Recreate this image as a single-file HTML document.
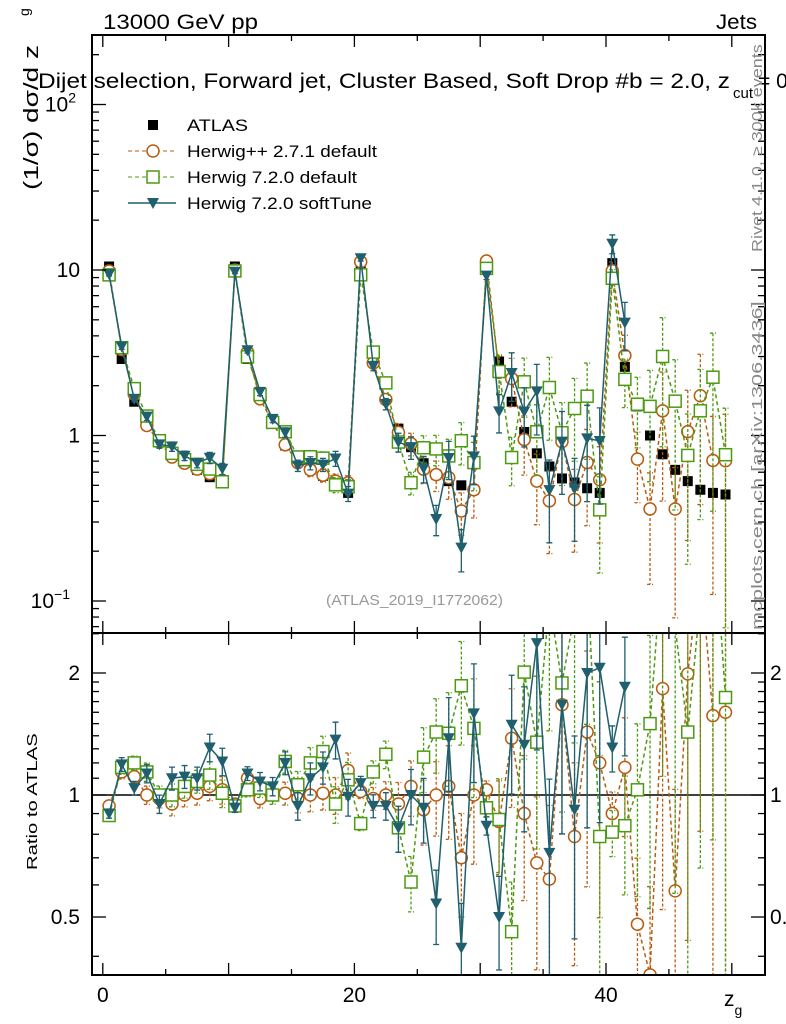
<!DOCTYPE html>
<html><head><meta charset="utf-8"><style>
html,body{margin:0;padding:0;background:#fff;overflow:hidden;width:786px;height:1024px;}
svg{display:block;overflow:hidden;font-family:"Liberation Sans",sans-serif;}
</style></head><body>
<svg id="chart" width="786" height="1024" viewBox="0 0 786 1024">
<defs>
<clipPath id="cm"><rect x="92" y="35" width="673" height="598"/></clipPath>
<clipPath id="cr"><rect x="92" y="633" width="673" height="342"/></clipPath>
<clipPath id="cpage"><rect x="0" y="0" width="786" height="1024"/></clipPath>
</defs>
<g clip-path="url(#cpage)">
<g id="marks"></g>
<rect x="92" y="35" width="673" height="598" fill="none" stroke="#000" stroke-width="2"/>
<rect x="92" y="633" width="673" height="342" fill="none" stroke="#000" stroke-width="2"/>
<g id="axes"></g>
<text x="103" y="29" font-size="21" textLength="155" lengthAdjust="spacingAndGlyphs">13000 GeV pp</text>
<text x="716" y="29" font-size="21" textLength="41" lengthAdjust="spacingAndGlyphs">Jets</text>
<text x="38" y="88" font-size="21" textLength="692" lengthAdjust="spacingAndGlyphs">Dijet selection, Forward jet, Cluster Based, Soft Drop #b = 2.0, z</text>
<text x="733" y="98" font-size="15">cut</text>
<text x="758" y="88" font-size="21">= 0.</text>
<text transform="translate(38,190) rotate(-90) scale(1.4,1)" font-size="20">(1/σ) dσ/d z</text>
<text transform="translate(29,16) rotate(-90)" font-size="14">g</text>
<text transform="translate(37,870) rotate(-90) scale(1.35,1)" font-size="15">Ratio to ATLAS</text>
<text x="724" y="1006" font-size="21">z<tspan font-size="14" dy="9">g</tspan></text>
<text transform="translate(762,252) rotate(-90) scale(1.2,1)" font-size="15" fill="#888">Rivet 4.1.0, ≥ 300k events</text>
<text transform="translate(762,630) rotate(-90) scale(1.45,1)" font-size="15" fill="#888">mcplots.cern.ch [arXiv:1306.3436]</text>
<text x="326" y="605" font-size="15" fill="#999" textLength="177" lengthAdjust="spacingAndGlyphs">(ATLAS_2019_I1772062)</text>
<g id="legend" font-size="17">
<rect x="148" y="120" width="10" height="10" fill="#000"/>
<text x="187" y="131" textLength="61" lengthAdjust="spacingAndGlyphs">ATLAS</text>
<line x1="128" y1="151" x2="176" y2="151" stroke="#b85c10" stroke-dasharray="4,3"/>
<circle cx="153" cy="151" r="6" fill="#fff" stroke="#b85c10" stroke-width="1.5"/>
<text x="187" y="157" textLength="190" lengthAdjust="spacingAndGlyphs">Herwig++ 2.7.1 default</text>
<line x1="128" y1="177" x2="176" y2="177" stroke="#4c9a10" stroke-dasharray="4,3"/>
<rect x="147" y="171" width="12" height="12" fill="#fff" stroke="#4c9a10" stroke-width="1.5"/>
<text x="187" y="183" textLength="170" lengthAdjust="spacingAndGlyphs">Herwig 7.2.0 default</text>
<line x1="128" y1="203" x2="176" y2="203" stroke="#1f5f6e" stroke-width="1.5"/>
<path d="M147,198 L159,198 L153,209 Z" fill="#1f5f6e"/>
<text x="187" y="209" textLength="185" lengthAdjust="spacingAndGlyphs">Herwig 7.2.0 softTune</text>
</g>
</g>
</svg>
<script>
const binCenters=[0.5,1.5,2.5,3.5,4.5,5.5,6.5,7.5,8.5,9.5,10.5,11.5,12.5,13.5,14.5,15.5,16.5,17.5,18.5,19.5,20.5,21.5,22.5,23.5,24.5,25.5,26.5,27.5,28.5,29.5,30.5,31.5,32.5,33.5,34.5,35.5,36.5,37.5,38.5,39.5,40.5,41.5,42.5,43.5,44.5,45.5,46.5,47.5,48.5,49.5];
const atlas=[10.5,2.9,1.6,1.15,0.93,0.78,0.68,0.62,0.56,0.52,10.5,2.9,1.7,1.2,0.87,0.7,0.62,0.57,0.53,0.45,11,2.8,1.65,1.1,0.85,0.68,0.58,0.53,0.5,0.47,11,2.8,1.6,1.05,0.78,0.65,0.55,0.52,0.48,0.45,11,2.6,1.5,1.0,0.77,0.62,0.53,0.47,0.45,0.44];
const ratioHpp=[0.94,1.14,1.11,1.0,0.98,0.95,1.0,1.01,1.05,1.03,0.95,1.1,0.98,1.0,1.01,0.98,1.0,1.01,1.0,1.15,1.02,0.98,1.0,0.95,1.05,0.92,1.0,1.05,0.70,1.0,1.03,0.86,1.38,0.9,0.68,0.62,1.67,0.79,1.43,1.2,0.9,1.17,0.48,0.36,1.83,0.58,1.99,3.7,1.57,1.6];
const ratioH720=[0.89,1.17,1.2,1.14,1.0,1.0,1.05,1.08,1.12,1.01,0.94,1.03,1.04,1.0,1.21,1.06,1.2,1.28,0.95,1.09,0.85,1.14,1.26,0.83,0.61,1.24,1.43,1.42,1.86,1.46,0.93,0.87,0.46,2.01,1.35,3.0,1.89,2.8,3.6,0.79,0.81,0.84,1.03,1.5,3.9,2.6,1.43,3.0,5.0,1.74];
const ratioSoft=[0.9,1.19,1.04,1.13,0.95,1.1,1.11,1.1,1.31,1.21,0.93,1.13,1.08,1.05,1.2,0.94,1.1,1.17,1.37,0.99,1.07,0.94,0.94,0.83,1.0,0.93,0.54,1.38,0.42,1.59,0.84,0.5,1.49,1.33,2.37,0.72,1.67,0.92,2.0,2.06,1.31,1.85];
const relErr=[0.02,0.03,0.03,0.04,0.04,0.05,0.05,0.05,0.06,0.06,0.02,0.03,0.04,0.04,0.05,0.06,0.07,0.07,0.08,0.08,0.03,0.05,0.06,0.1,0.12,0.14,0.16,0.2,0.22,0.25,0.04,0.2,0.25,0.3,0.35,0.4,0.4,0.4,0.45,0.45,0.1,0.25,0.35,0.5,0.55,0.6,0.6,0.6,0.65,0.7];
const xTicks=[0,10,20,30,40,50];
const xLabels=["0","","20","","40",""];
const ratioLabels=[0.5,1,2];

const NS="http://www.w3.org/2000/svg";
const X0=102.8,XS=12.58;
const xs=v=>X0+v*XS;
const ym=v=>270-(Math.log10(v)-1)*165.5;
const yr=v=>795-Math.log10(v)*405.3;
function mk(p,t,a){const e=document.createElementNS(NS,t);for(const k in a)e.setAttribute(k,a[k]);p.appendChild(e);return e;}
const marks=document.getElementById('marks');
const gm=mk(marks,'g',{'clip-path':'url(#cm)'});


const gr=mk(marks,'g',{'clip-path':'url(#cr)'});


const one=mk(gr,'line',{x1:92,x2:765,y1:yr(1),y2:yr(1),stroke:'#000','stroke-width':1.5});



function series(g,vals,yf,color,dash,shape,name,ratioMode){
  const sg=mk(g,'g',{});
  
  
  let d='';
  vals.forEach((r,i)=>{const v=ratioMode?r:r*atlas[i];d+=(i?'L':'M')+xs(binCenters[i]).toFixed(1)+','+yf(v).toFixed(1);});
  const pl=mk(sg,'path',{d:d,fill:'none',stroke:color,'stroke-width':1.5});
  if(dash)pl.setAttribute('stroke-dasharray',dash);
  
  
  vals.forEach((r,i)=>{
    const v=ratioMode?r:r*atlas[i];const x=xs(binCenters[i]),y=yf(v);
    const e=relErr[i]*1.3;
    const y1=yf(v*(1+e)),y2=yf(Math.max(v*(1-e),1e-4));
    const eb=mk(sg,'path',{d:`M${x},${y1}L${x},${y2}M${x-3},${y1}L${x+3},${y1}M${x-3},${y2}L${x+3},${y2}`,stroke:color,'stroke-width':1.3,fill:'none'});
    if(dash)eb.setAttribute('stroke-dasharray','3,2');
    
    
    let m;
    if(shape==='c')m=mk(sg,'circle',{cx:x,cy:y,r:6,fill:'#fff',stroke:color,'stroke-width':1.5});
    else if(shape==='s')m=mk(sg,'rect',{x:x-6,y:y-6,width:12,height:12,fill:'#fff',stroke:color,'stroke-width':1.5});
    else m=mk(sg,'path',{d:`M${x-6},${y-5}L${x+6},${y-5}L${x},${y+6}Z`,fill:color});
    
    
  });
}
atlas.forEach((v,i)=>{
  const x=xs(binCenters[i]),y=ym(v);
  const m=mk(gm,'rect',{x:x-5,y:y-5,width:10,height:10,fill:'#000'});
  
  
});
series(gm,ratioHpp,ym,'#b85c10','4,3','c','herwigpp-main',false);
series(gm,ratioH720,ym,'#4c9a10','4,3','s','herwig720-main',false);
series(gm,ratioSoft,ym,'#1f5f6e',null,'t','softtune-main',false);
series(gr,ratioHpp,yr,'#b85c10','4,3','c','herwigpp-ratio',true);
series(gr,ratioH720,yr,'#4c9a10','4,3','s','herwig720-ratio',true);
series(gr,ratioSoft,yr,'#1f5f6e',null,'t','softtune-ratio',true);

const ax=document.getElementById('axes');
function tick(x1,y1,x2,y2,n){const t=mk(ax,'line',{x1,y1,x2,y2,stroke:'#000','stroke-width':1.3});}
function lab(x,y,s,anchor,n,fs){const t=mk(ax,'text',{x,y,'font-size':fs||21,'text-anchor':anchor});t.textContent=s;return t;}
xTicks.forEach((v,i)=>{
  const x=xs(v);
  [[35,47],[633,621],[633,645],[975,963]].forEach(p=>tick(x,p[0],x,p[1],'x-major-tick'));
  const xm=xs(v+5);
  if(xm<765)[[35,41],[633,627],[633,639],[975,969]].forEach(p=>tick(xm,p[0],xm,p[1],'x-minor-tick'));
  if(xLabels[i])lab(x,1002,xLabels[i],'middle','x-tick-label');
});
for(let d=-2;d<=2;d++){for(let k=1;k<10;k++){const v=k*Math.pow(10,d);const y=ym(v);if(y<35||y>633)continue;const L=k===1?14:7;tick(92,y,92+L,y,'y-tick');tick(765,y,765-L,y,'y-tick');}}
const ml=[[0.1,'10','−1'],[1,'1',null],[10,'10',null],[100,'10','2']];
ml.forEach(m=>{const t=lab(80,ym(m[0])+7,m[1],'end','y-tick-label');if(m[2]){t.setAttribute('x',m[2].length>1?70:76);const s=document.createElementNS(NS,'tspan');s.setAttribute('font-size','14');s.setAttribute('dy','-9');s.textContent=m[2];t.appendChild(s);}});
[0.4,0.5,0.6,0.7,0.8,0.9,1,1.1,1.2,1.3,1.4,1.5,1.6,1.7,1.8,1.9,2,2.5].forEach(v=>{const y=yr(v);if(y<633||y>975)return;const L=(v===0.5||v===1||v===2)?14:7;tick(92,y,92+L,y,'ratio-tick');tick(765,y,765-L,y,'ratio-tick');});
ratioLabels.forEach(v=>{lab(80,yr(v)+7,String(v),'end','ratio-tick-label');lab(770,yr(v)+7,String(v),'start','ratio-tick-label-right');});
</script>
</body></html>
